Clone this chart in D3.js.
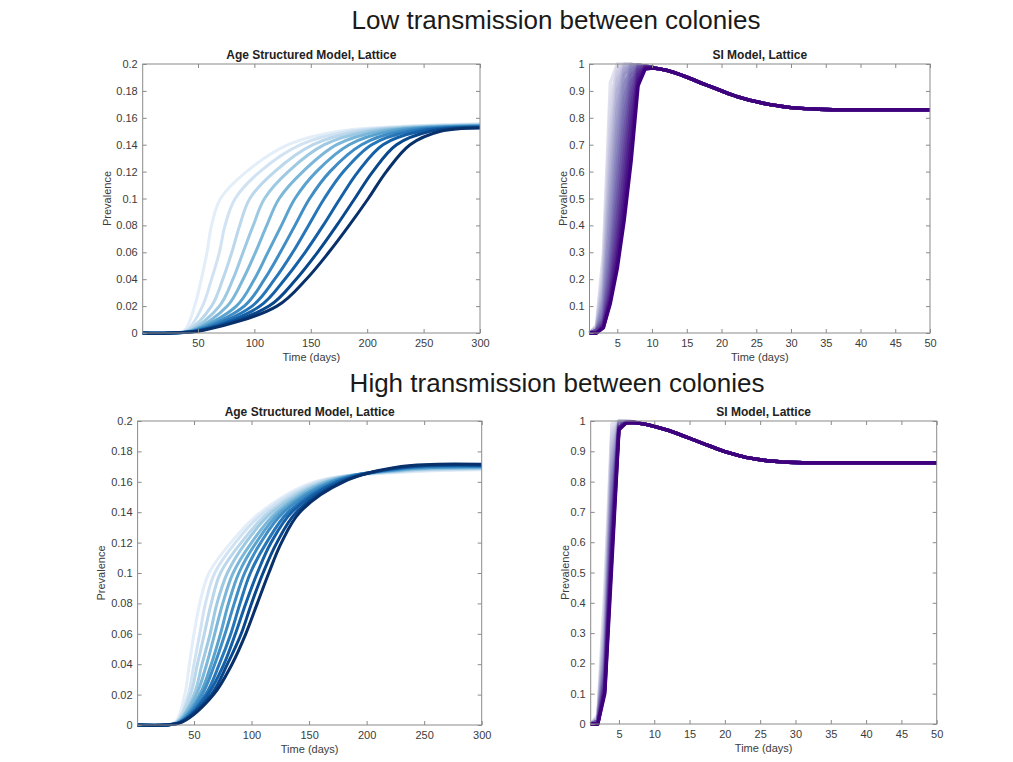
<!DOCTYPE html>
<html><head><meta charset="utf-8">
<script src="https://cdn.jsdelivr.net/npm/d3@7"></script>
<style>
body{margin:0;background:#fff}
text{font-family:"Liberation Sans",Arial,Helvetica,sans-serif}
</style>
</head><body>
<svg id="c" width="1013" height="762"></svg>
<script>
// ---------------- DATA ----------------
const sectionTitles = ["Low transmission between colonies", "High transmission between colonies"];
const panelTitles = ["Age Structured Model, Lattice", "SI Model, Lattice"];
const xLabel = "Time (days)";
const yLabel = "Prevalence";

const asXTicks = [50, 100, 150, 200, 250, 300];
const asYTicks = [0, 0.02, 0.04, 0.06, 0.08, 0.1, 0.12, 0.14, 0.16, 0.18, 0.2];
const siXTicks = [5, 10, 15, 20, 25, 30, 35, 40, 45, 50];
const siYTicks = [0, 0.1, 0.2, 0.3, 0.4, 0.5, 0.6, 0.7, 0.8, 0.9, 1];

// Age structured, low transmission: day at which each curve reaches each prevalence level
const asLowLevels = [0.002, 0.02, 0.04, 0.06, 0.08, 0.10, 0.12, 0.14, 0.15];
const asLowTimes = [
  [38, 47, 53, 58, 62, 70, 93, 130, 175],
  [40, 54, 62, 69, 74, 83, 105, 141, 184],
  [41, 62, 72, 80, 87, 96, 118, 152, 193],
  [43, 69, 81, 90, 99, 109, 130, 162, 202],
  [45, 76, 90, 101, 111, 122, 143, 173, 211],
  [46, 84, 100, 112, 124, 136, 155, 184, 220],
  [48, 91, 109, 123, 136, 149, 167, 195, 229],
  [50, 98, 118, 134, 148, 162, 179, 204, 238],
  [52, 105, 127, 145, 161, 176, 192, 214, 247],
  [53, 113, 137, 156, 173, 189, 205, 226, 256],
  [55, 120, 146, 166, 184, 201, 217, 238, 265]
];
const asLowEnd = [0.1555, 0.1552, 0.1549, 0.1546, 0.1543, 0.154, 0.1537, 0.1534, 0.1531, 0.1528, 0.1525];

// Age structured, high transmission
const asHighLevels = [0.002, 0.02, 0.04, 0.06, 0.08, 0.10, 0.12, 0.14, 0.16];
const asHighTimes = [
  [34, 42, 46, 50, 55, 63, 82, 108, 155],
  [35, 45, 50, 55, 60, 68, 86, 111, 158],
  [35, 47, 53, 59, 65, 73, 91, 115, 160],
  [36, 50, 57, 64, 70, 79, 95, 118, 163],
  [36, 52, 61, 68, 75, 84, 100, 122, 165],
  [37, 55, 65, 73, 80, 89, 104, 125, 168],
  [38, 57, 68, 77, 85, 94, 108, 128, 170],
  [38, 60, 72, 82, 90, 99, 113, 132, 173],
  [39, 62, 76, 86, 95, 105, 117, 135, 175],
  [39, 65, 79, 91, 100, 110, 122, 139, 178],
  [40, 67, 83, 95, 105, 115, 126, 142, 180]
];
const asHighAt230 = [0.1662, 0.1666, 0.167, 0.1674, 0.1678, 0.1681, 0.1685, 0.1689, 0.1693, 0.1696, 0.170];
const asHighEnd = [0.168, 0.1684, 0.1687, 0.169, 0.1694, 0.1697, 0.17, 0.1704, 0.1708, 0.1711, 0.1715];

// SI model, low transmission: days 1..10 per curve, then a shared tail (days 11..50)
const siLowRise = [
  [0, 0.03, 0.30, 0.93, 1.0, 0.999, 0.998, 0.996, 0.993, 0.988],
  [0, 0.02, 0.27, 0.85, 0.99, 0.999, 0.998, 0.996, 0.993, 0.988],
  [0, 0.02, 0.23, 0.76, 0.97, 0.999, 0.998, 0.996, 0.993, 0.988],
  [0, 0.02, 0.20, 0.68, 0.94, 0.997, 0.998, 0.996, 0.993, 0.988],
  [0, 0.02, 0.17, 0.60, 0.90, 0.99, 0.998, 0.996, 0.993, 0.988],
  [0, 0.01, 0.14, 0.52, 0.84, 0.98, 0.997, 0.996, 0.993, 0.988],
  [0, 0.01, 0.12, 0.45, 0.77, 0.96, 0.995, 0.996, 0.993, 0.988],
  [0, 0.01, 0.10, 0.38, 0.70, 0.92, 0.99, 0.996, 0.993, 0.988],
  [0, 0.01, 0.08, 0.32, 0.63, 0.87, 0.98, 0.995, 0.993, 0.988],
  [0, 0.01, 0.06, 0.27, 0.56, 0.81, 0.96, 0.993, 0.992, 0.987],
  [0, 0.01, 0.05, 0.23, 0.49, 0.74, 0.93, 0.99, 0.992, 0.987],
  [0, 0.01, 0.04, 0.19, 0.42, 0.67, 0.89, 0.985, 0.991, 0.987],
  [0, 0.0, 0.03, 0.16, 0.36, 0.60, 0.84, 0.975, 0.99, 0.987],
  [0, 0.0, 0.03, 0.14, 0.31, 0.53, 0.78, 0.96, 0.988, 0.986],
  [0, 0.0, 0.02, 0.12, 0.27, 0.47, 0.71, 0.94, 0.985, 0.986],
  [0, 0.0, 0.02, 0.11, 0.24, 0.42, 0.64, 0.92, 0.98, 0.985]
];
const siLowTail = [0.982, 0.977, 0.97, 0.961, 0.951, 0.941, 0.93, 0.92, 0.91, 0.9,
  0.89, 0.881, 0.873, 0.866, 0.86, 0.854, 0.849, 0.845, 0.841, 0.838,
  0.836, 0.834, 0.833, 0.832, 0.831, 0.83, 0.83, 0.83, 0.83, 0.83,
  0.83, 0.83, 0.83, 0.83, 0.83, 0.83, 0.83, 0.83, 0.83, 0.83];

// SI model, high transmission: days 1..7 per curve, then shared tail (days 8..50)
const siHighRise = [
  [0, 0.03, 0.45, 0.99, 1.0, 0.999, 0.998],
  [0, 0.02, 0.40, 0.97, 1.0, 0.999, 0.998],
  [0, 0.02, 0.36, 0.95, 1.0, 0.999, 0.998],
  [0, 0.02, 0.33, 0.92, 0.999, 0.999, 0.998],
  [0, 0.02, 0.30, 0.89, 0.998, 0.998, 0.997],
  [0, 0.01, 0.27, 0.86, 0.997, 0.998, 0.997],
  [0, 0.01, 0.24, 0.82, 0.995, 0.998, 0.997],
  [0, 0.01, 0.22, 0.79, 0.993, 0.997, 0.997],
  [0, 0.01, 0.20, 0.75, 0.99, 0.997, 0.997],
  [0, 0.01, 0.18, 0.72, 0.99, 0.996, 0.996],
  [0, 0.01, 0.16, 0.68, 0.986, 0.996, 0.996],
  [0, 0.0, 0.15, 0.65, 0.983, 0.995, 0.996],
  [0, 0.0, 0.13, 0.62, 0.98, 0.995, 0.996],
  [0, 0.0, 0.12, 0.59, 0.978, 0.994, 0.995],
  [0, 0.0, 0.11, 0.56, 0.975, 0.994, 0.995],
  [0, 0.0, 0.10, 0.53, 0.97, 0.993, 0.995]
];
const siHighTail = [0.992, 0.988, 0.982, 0.976, 0.969, 0.961, 0.952, 0.943, 0.934, 0.925,
  0.916, 0.907, 0.899, 0.892, 0.886, 0.88, 0.876, 0.872, 0.869, 0.867,
  0.865, 0.864, 0.863, 0.862, 0.862, 0.862, 0.862, 0.862, 0.862, 0.862,
  0.862, 0.862, 0.862, 0.862, 0.862, 0.862, 0.862, 0.862, 0.862, 0.862,
  0.862, 0.862, 0.862];

// ---------------- BUILD SERIES ----------------
function asSeries(levels, times, ends, at230) {
  return times.map((row, i) => {
    const pts = [[1, 0], [25, 0]];
    row.forEach((t, j) => pts.push([t, levels[j]]));
    if (at230) pts.push([230, at230[i]]);
    pts.push([300, ends[i]]);
    return pts;
  });
}
function siSeries(rise, tail) {
  return rise.map(row => row.concat(tail).map((v, j) => [j + 1, v]));
}

const svg = d3.select("#c");
const textCol = "#3c3c3c";

function panel(cfg) {
  const x = d3.scaleLinear().domain(cfg.xDomain).range([cfg.x0, cfg.x1]);
  const y = d3.scaleLinear().domain(cfg.yDomain).range([cfg.y1, cfg.y0]);
  const g = svg.append("g");

  const n = cfg.series.length;
  const line = d3.line().x(d => x(d[0])).y(d => y(d[1])).curve(cfg.curve);
  const lg = g.append("g");
  cfg.series.forEach((s, i) => {
    lg.append("path").datum(s).attr("d", line)
      .attr("fill", "none")
      .attr("stroke", cfg.color(i / (n - 1)))
      .attr("stroke-width", cfg.lw)
      .attr("stroke-linejoin", "round");
  });

  const tk = 4;
  const axStyle = sel => {
    sel.select(".domain").remove();
    sel.selectAll(".tick line").attr("stroke", "#8a8a8a");
    sel.selectAll(".tick text").attr("fill", textCol).style("font-size", "11px")
      .style("font-family", '"Liberation Sans",Arial,sans-serif');
  };
  g.append("g").attr("transform", `translate(${cfg.x0},0)`)
    .call(d3.axisLeft(y).tickValues(cfg.yTicks).tickSize(-tk).tickPadding(5).tickFormat(cfg.fmt)).call(axStyle);
  g.append("g").attr("transform", `translate(${cfg.x1},0)`)
    .call(d3.axisRight(y).tickValues(cfg.yTicks).tickSize(-tk).tickFormat("")).call(axStyle);
  g.append("g").attr("transform", `translate(0,${cfg.y1})`)
    .call(d3.axisBottom(x).tickValues(cfg.xTicks).tickSize(-tk).tickPadding(6)).call(axStyle);
  g.append("g").attr("transform", `translate(0,${cfg.y0})`)
    .call(d3.axisTop(x).tickValues(cfg.xTicks).tickSize(-tk).tickFormat("")).call(axStyle);

  g.append("rect").attr("x", cfg.x0).attr("y", cfg.y0)
    .attr("width", cfg.x1 - cfg.x0).attr("height", cfg.y1 - cfg.y0)
    .attr("fill", "none").attr("stroke", "#8a8a8a").attr("stroke-width", 1);

  g.append("text").attr("x", (cfg.x0 + cfg.x1) / 2).attr("y", cfg.y0 - 5)
    .attr("text-anchor", "middle").style("font-size", "12px").style("font-weight", "bold")
    .attr("fill", "#222").text(cfg.title);
  g.append("text").attr("x", (cfg.x0 + cfg.x1) / 2).attr("y", cfg.y1 + 28)
    .attr("text-anchor", "middle").style("font-size", "11px").attr("fill", textCol).text(xLabel);
  g.append("text").attr("transform", `translate(${cfg.yLabX},${(cfg.y0 + cfg.y1) / 2}) rotate(-90)`)
    .attr("text-anchor", "middle").style("font-size", "11px").attr("fill", textCol).text(yLabel);
}

const blues = t => d3.interpolateBlues(0.1 + 0.9 * t);
const purples = t => d3.interpolatePurples(0.2 + 0.8 * t);
const fmtAS = v => String(+v.toFixed(2));
const fmtSI = v => String(+v.toFixed(1));
const asCurve = d3.curveCatmullRom.alpha(0.5);

panel({x0: 142.7, x1: 480, y0: 64, y1: 333, xDomain: [1, 300], yDomain: [0, 0.2],
  xTicks: asXTicks, yTicks: asYTicks, fmt: fmtAS, title: panelTitles[0], yLabX: 111,
  series: asSeries(asLowLevels, asLowTimes, asLowEnd, null), color: blues, lw: 3, curve: asCurve});
panel({x0: 589.5, x1: 930, y0: 64, y1: 333, xDomain: [1, 50], yDomain: [0, 1],
  xTicks: siXTicks, yTicks: siYTicks, fmt: fmtSI, title: panelTitles[1], yLabX: 567,
  series: siSeries(siLowRise, siLowTail), color: purples, lw: 3.4, curve: d3.curveLinear});
panel({x0: 137.6, x1: 481.7, y0: 421, y1: 725, xDomain: [1, 300], yDomain: [0, 0.2],
  xTicks: asXTicks, yTicks: asYTicks, fmt: fmtAS, title: panelTitles[0], yLabX: 105,
  series: asSeries(asHighLevels, asHighTimes, asHighEnd, asHighAt230), color: blues, lw: 3, curve: asCurve});
panel({x0: 590.7, x1: 936.7, y0: 421, y1: 724, xDomain: [1, 50], yDomain: [0, 1],
  xTicks: siXTicks, yTicks: siYTicks, fmt: fmtSI, title: panelTitles[1], yLabX: 569,
  series: siSeries(siHighRise, siHighTail), color: purples, lw: 3.4, curve: d3.curveLinear});

svg.append("text").attr("x", 556).attr("y", 29).attr("text-anchor", "middle")
  .style("font-size", "26px").attr("fill", "#1a1a1a").text(sectionTitles[0]);
svg.append("text").attr("x", 557).attr("y", 392).attr("text-anchor", "middle")
  .style("font-size", "26px").attr("fill", "#1a1a1a").text(sectionTitles[1]);
</script>
</body></html>
